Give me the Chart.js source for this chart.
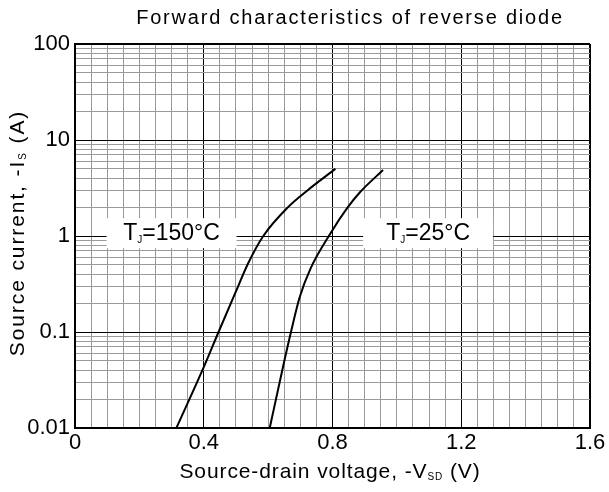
<!DOCTYPE html>
<html>
<head>
<meta charset="utf-8">
<script src="https://cdn.jsdelivr.net/npm/chart.js@4"></script>
<style>
    html, body { margin: 0; padding: 0; background: #fff; }
    #wrap { width: 609px; height: 492px; }
</style>
</head>
<body>
<div id="wrap"><canvas id="diode-chart"></canvas></div>
<script>
// Forward voltage (V) / source current (A)
const vsd150 = [0.315, 0.40, 0.446, 0.498, 0.538, 0.585, 0.662, 0.723, 0.809];
const is150 = [0.01, 0.043, 0.1, 0.255, 0.52, 1.0, 2.0, 3.0, 5.0];
const vsd25 = [0.605, 0.646, 0.671, 0.698, 0.732, 0.794, 0.846, 0.886, 0.957];
const is25 = [0.01, 0.043, 0.1, 0.23, 0.46, 1.07, 1.96, 2.87, 4.87];

// tick labels
const xLabels = [0, 0.4, 0.8, 1.2, 1.6];
const yDecades = [0.01, 0.1, 1, 10, 100];
const yDecadeLabels = ["0.01", "0.1", "1", "10", "100"];

// temperature tags: [x value, y value, main, sub, rest]
const tags = [
    [0.30, 1.07, "T", "J", "=150°C"],
    [1.097, 1.07, "T", "J", "=25°C"]
];

const FONT = "'Liberation Sans', Arial, sans-serif";

function toPoints(xs, ys) {
    return xs.map((x, i) => ({ x: x, y: ys[i] }));
}

function isMajorX(v) {
    return Math.abs(v / 0.4 - Math.round(v / 0.4)) < 1e-6;
}
function isDecade(v) {
    let l = Math.log10(v);
    return Math.abs(l - Math.round(l)) < 1e-6;
}

// draws a run of text pieces, some of them subscripts
function richWidth(ctx, parts) {
    let w = 0;
    parts.forEach(p => {
        ctx.font = p.size + "px " + FONT;
        w += ctx.measureText(p.t).width;
    });
    return w;
}
function drawRich(ctx, parts, x, y) {
    let w = richWidth(ctx, parts);
    let cx = x - w / 2;
    parts.forEach(p => {
        ctx.font = p.size + "px " + FONT;
        ctx.fillText(p.t, cx, y + (p.dy || 0));
        cx += ctx.measureText(p.t).width;
    });
}

const textPlugin = {
    id: "texts",
    beforeDatasetsDraw(chart) {
        const ctx = chart.ctx;
        const xs = chart.scales.x, ys = chart.scales.y;
        ctx.save();
        ctx.textBaseline = "middle";
        ctx.textAlign = "left";
        tags.forEach(t => {
            let px = xs.getPixelForValue(t[0]);
            let py = ys.getPixelForValue(t[1]);
            ctx.fillStyle = "#fff";
            ctx.fillRect(px - 65, py - 15, 130, 30);
            ctx.fillStyle = "#000";
            drawRich(ctx, [
                { t: t[2], size: 23 },
                { t: t[3], size: 10, dy: 7 },
                { t: t[4], size: 23 }
            ], px, py);
        });
        ctx.restore();
    },
    afterDraw(chart) {
        const ctx = chart.ctx;
        ctx.save();
        ctx.fillStyle = "#000";
        ctx.textBaseline = "middle";
        ctx.textAlign = "left";

        // chart title
        ctx.letterSpacing = "1.8px";
        drawRich(ctx, [{ t: "Forward characteristics of reverse diode", size: 20 }], 350, 18);

        // x axis title
        ctx.letterSpacing = "0.9px";
        drawRich(ctx, [
            { t: "Source-drain voltage, -V", size: 21 },
            { t: "SD", size: 10, dy: 5 },
            { t: " (V)", size: 21 }
        ], 330, 472);

        // y axis title
        ctx.letterSpacing = "1.9px";
        ctx.translate(18, 233);
        ctx.rotate(-Math.PI / 2);
        drawRich(ctx, [
            { t: "Source current, -I", size: 21 },
            { t: "S", size: 10, dy: 5 },
            { t: " (A)", size: 21 }
        ], 0, 0);
        ctx.restore();
    }
};

new Chart(document.getElementById("diode-chart"), {
    type: "line",
    data: {
        datasets: [{
            label: "TJ=150°C",
            data: toPoints(vsd150, is150),
            borderColor: "#000",
            borderWidth: 2,
            pointRadius: 0,
            cubicInterpolationMode: "monotone",
            fill: false
        }, {
            label: "TJ=25°C",
            data: toPoints(vsd25, is25),
            borderColor: "#000",
            borderWidth: 2,
            pointRadius: 0,
            cubicInterpolationMode: "monotone",
            fill: false
        }]
    },
    options: {
        responsive: true,
        maintainAspectRatio: false,
        animation: false,
        layout: {
            padding: { left: 0, right: 19, top: 44, bottom: 0 }
        },
        plugins: {
            legend: { display: false },
            tooltip: { enabled: false }
        },
        scales: {
            x: {
                type: "linear",
                min: 0,
                max: 1.6,
                afterFit: (s) => { s.height = 64; },
                border: { display: true, color: "#000", width: 2 },
                grid: {
                    drawTicks: false,
                    color: (c) => isMajorX(c.tick.value) ? "#000" : "#9a9a9a",
                    lineWidth: (c) => Math.abs(c.tick.value - 1.6) < 1e-6 ? 2 : 1
                },
                ticks: {
                    stepSize: 0.05,
                    autoSkip: false,
                    maxRotation: 0,
                    padding: 2,
                    color: "#000",
                    font: { family: FONT, size: 22 },
                    callback: (v) => {
                        let hit = xLabels.find(l => Math.abs(l - v) < 1e-6);
                        return hit === undefined ? "" : String(hit);
                    }
                }
            },
            y: {
                type: "logarithmic",
                min: 0.01,
                max: 100,
                afterFit: (s) => { s.width = 75; },
                afterBuildTicks: (s) => {
                    let t = [];
                    yDecades.forEach((d, i) => {
                        if (i === yDecades.length - 1) {
                            t.push({ value: d });
                            return;
                        }
                        for (let k = 1; k < 10; k++) t.push({ value: +(d * k).toPrecision(3) });
                    });
                    s.ticks = t;
                },
                border: { display: true, color: "#000", width: 2 },
                grid: {
                    drawTicks: false,
                    color: (c) => isDecade(c.tick.value) ? "#000" : "#9a9a9a",
                    lineWidth: (c) => c.tick.value === 100 ? 2 : 1
                },
                ticks: {
                    autoSkip: false,
                    padding: 5,
                    color: "#000",
                    font: { family: FONT, size: 22 },
                    callback: (v) => {
                        let i = yDecades.findIndex(d => Math.abs(d - v) / d < 1e-6);
                        return i < 0 ? "" : yDecadeLabels[i];
                    }
                }
            }
        }
    },
    plugins: [textPlugin]
});
</script>
</body>
</html>
